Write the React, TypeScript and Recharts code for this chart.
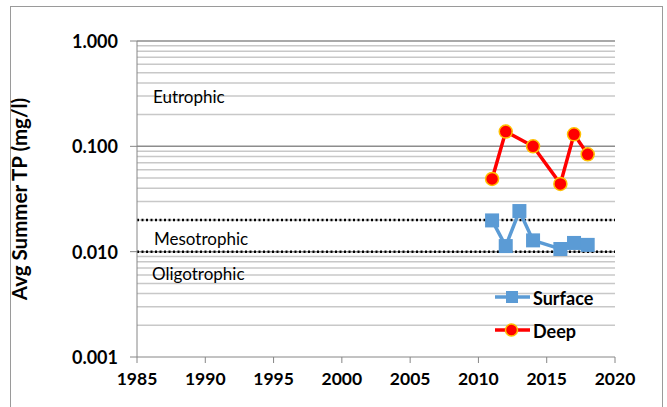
import React from "react";
import { ComposedChart, Line, XAxis, YAxis, ReferenceLine } from "recharts";

const years = [1985, 1990, 1995, 2000, 2005, 2010, 2015, 2020];
const decadeTicks = [0.001, 0.01, 0.1, 1];
const minorTicks = [
  0.002, 0.003, 0.004, 0.005, 0.006, 0.007, 0.008, 0.009,
  0.02, 0.03, 0.04, 0.05, 0.06, 0.07, 0.08, 0.09,
  0.2, 0.3, 0.4, 0.5, 0.6, 0.7, 0.8, 0.9,
];
const thresholds = [0.02, 0.01];

const surfaceYears = [2011, 2012, 2013, 2014, 2016, 2017, 2018];
const surfaceTP = [0.0198, 0.0113, 0.0243, 0.0128, 0.0106, 0.0121, 0.0116];
const deepYears = [2011, 2012, 2014, 2016, 2017, 2018];
const deepTP = [0.049, 0.138, 0.1, 0.044, 0.13, 0.084];

const surfaceData = surfaceYears.map((year, i) => ({ year, tp: surfaceTP[i] }));
const deepData = deepYears.map((year, i) => ({ year, tp: deepTP[i] }));

const FONT = "Lato, 'DejaVu Sans', sans-serif";

const SquareDot = (props: any) => {
  const { cx, cy } = props;
  if (cx == null || cy == null) return null;
  return <rect x={cx - 7} y={cy - 7} width={14} height={14} fill="#5B9BD5" />;
};

const CircleDot = (props: any) => {
  const { cx, cy } = props;
  if (cx == null || cy == null) return null;
  return <circle cx={cx} cy={cy} r={6.5} fill="#FF0000" stroke="#FFC000" strokeWidth={1.5} />;
};

const YTick = (props: any) => {
  const { x, y, payload } = props;
  const v = payload.value;
  if (!decadeTicks.some((d) => Math.abs(d - v) < 1e-9)) return null;
  return (
    <g>
      <line x1={x + 1} x2={x + 8} y1={y} y2={y} stroke="#868686" strokeWidth={1} />
      <text x={x - 11} y={y} textAnchor="end" dominantBaseline="central" fontFamily={FONT} fontWeight="bold" fontSize={18} fill="#000">
        {v.toFixed(3)}
      </text>
    </g>
  );
};

export default function App() {
  return (
    <div style={{ position: "absolute", left: 0, top: 0, width: 667, height: 407, background: "#fff", overflow: "hidden" }}>
      <div style={{ position: "absolute", left: 10, top: 6, width: 653, height: 410, border: "1.5px solid #9a9a9a", boxSizing: "border-box" }} />
      <ComposedChart width={667} height={407} margin={{ top: 41, right: 52, bottom: 0, left: 0 }} style={{ position: "absolute", left: 0, top: 0 }}>
        <XAxis
          dataKey="year"
          type="number"
          domain={[1985, 2020]}
          ticks={years}
          allowDuplicatedCategory={false}
          height={50}
          stroke="#868686"
          tickSize={6}
          tick={{ fontFamily: FONT, fontWeight: "bold", fontSize: 17.5, fill: "#000", dy: 8 }}
          interval={0}
        />
        <YAxis
          scale="log"
          type="number"
          domain={[0.001, 1]}
          ticks={[...decadeTicks, ...minorTicks]}
          allowDataOverflow
          width={137}
          stroke="#868686"
          tickLine={false}
          tick={<YTick />}
          interval={0}
          label={{
            value: "Avg Summer TP (mg/l)",
            angle: -90,
            position: "insideLeft",
            offset: 0,
            dx: 20,
            style: { fontFamily: FONT, fontWeight: "bold", fontSize: 20.5, fill: "#000", textAnchor: "middle" },
          }}
        />
        {minorTicks.map((v) => (
          <ReferenceLine key={"m" + v} y={v} stroke="#c8c8c8" strokeWidth={1.5} ifOverflow="hidden" />
        ))}
        {decadeTicks.slice(1).map((v) => (
          <ReferenceLine key={"d" + v} y={v} stroke="#8c8c8c" strokeWidth={1.5} />
        ))}
        {thresholds.map((v) => (
          <ReferenceLine key={"t" + v} y={v} stroke="#000" strokeWidth={2.5} strokeDasharray="2 2.5" />
        ))}
        <Line data={surfaceData} dataKey="tp" stroke="#5B9BD5" strokeWidth={3.5} dot={<SquareDot />} isAnimationActive={false} />
        <Line data={deepData} dataKey="tp" stroke="#FF0000" strokeWidth={3.5} dot={<CircleDot />} isAnimationActive={false} />
      </ComposedChart>
      <div style={{ position: "absolute", left: 153, top: 86, fontFamily: FONT, fontSize: 17, color: "#000" }}>Eutrophic</div>
      <div style={{ position: "absolute", left: 154, top: 228, fontFamily: FONT, fontSize: 17, color: "#000" }}>Mesotrophic</div>
      <div style={{ position: "absolute", left: 152, top: 263, fontFamily: FONT, fontSize: 17, color: "#000" }}>Oligotrophic</div>
      <svg style={{ position: "absolute", left: 490, top: 282 }} width={150} height={62}>
        <line x1={5} x2={40} y1={15} y2={15} stroke="#5B9BD5" strokeWidth={3.5} />
        <rect x={16} y={9} width={12} height={12} fill="#5B9BD5" />
        <text x={43} y={16} dominantBaseline="central" fontFamily={FONT} fontWeight="bold" fontSize={18} fill="#000">Surface</text>
        <line x1={5} x2={40} y1={48} y2={48} stroke="#FF0000" strokeWidth={3.5} />
        <circle cx={21.5} cy={48} r={6} fill="#FF0000" stroke="#FFC000" strokeWidth={1.5} />
        <text x={43} y={49} dominantBaseline="central" fontFamily={FONT} fontWeight="bold" fontSize={18} fill="#000">Deep</text>
      </svg>
    </div>
  );
}
